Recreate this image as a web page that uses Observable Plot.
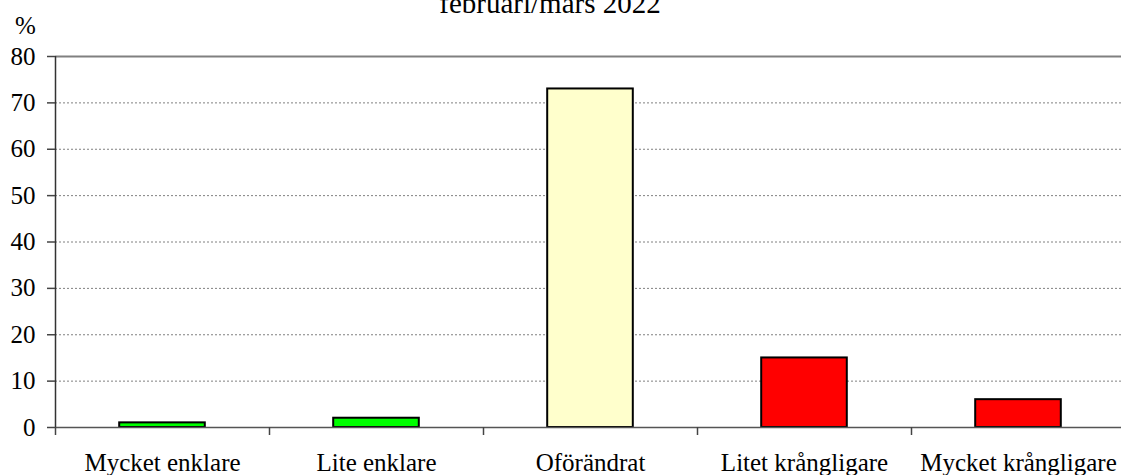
<!DOCTYPE html>
<html>
<head>
<meta charset="utf-8">
<script src="https://cdn.jsdelivr.net/npm/d3@7"></script>
<script src="https://cdn.jsdelivr.net/npm/@observablehq/plot@0.6"></script>
<style>
  html, body { margin: 0; padding: 0; background: #fff; overflow: hidden; }
  #wrap { position: relative; width: 1121px; height: 475px; font-family: "Liberation Serif", "Times New Roman", serif; }
  #title { position: absolute; left: 0; width: 1100px; text-align: center; top: -11px; font-size: 29px; line-height: 28px; color: #000; }
  #chart { position: absolute; left: 0; top: 0; }
</style>
</head>
<body>
<div id="wrap">
  <div id="chart"></div>
  <div id="title">februari/mars 2022</div>
</div>
<script>
const categories = ["Mycket enklare", "Lite enklare", "Oförändrat", "Litet krångligare", "Mycket krångligare"];
const values = [1, 2, 73, 15, 6];
const barColors = ["#00ff00", "#00ff00", "#ffffcc", "#ff0000", "#ff0000"];
const yTicks = [0, 10, 20, 30, 40, 50, 60, 70, 80];
const yUnit = "%";

const data = categories.map((c, i) => ({ i, category: c, value: values[i], color: barColors[i] }));
const centers = categories.map((c, i) => i + 0.5);
const bounds = d3.range(categories.length + 1);

const plot = Plot.plot({
  width: 1121,
  height: 475,
  marginLeft: 55,
  marginRight: 0,
  marginTop: 56,
  marginBottom: 48,
  style: { fontFamily: "Liberation Serif, Times New Roman, serif", fontSize: "25px", background: "#fff", color: "#000", overflow: "visible" },
  x: { domain: [0, categories.length], range: [55, 1125], axis: null },
  y: { domain: [0, 80], axis: null },
  color: { type: "identity" },
  marks: [
    Plot.ruleY(yTicks.filter(t => t > 0 && t < 80), { stroke: "#808080", strokeWidth: 1, strokeDasharray: "2,2" }),
    Plot.ruleY([80], { stroke: "#808080", strokeWidth: 2 }),
    Plot.rectY(data, { x1: d => d.i + 0.3, x2: d => d.i + 0.7, y: "value", fill: "color", stroke: "#000", strokeWidth: 2 }),
    Plot.ruleY([0], { stroke: "#555", strokeWidth: 1.5 }),
    Plot.axisX(bounds, { tickSize: 8, tickFormat: () => "", stroke: "#444", strokeWidth: 1.5 }),
    Plot.axisX(centers, { tickSize: 0, tickPadding: 26, tickFormat: v => categories[Math.floor(v)], fontSize: 25, fill: "#000" }),
    Plot.ruleX([0], { y1: 0, y2: 80, stroke: "#333", strokeWidth: 1.5 }),
    Plot.axisY(yTicks, { tickSize: 8, tickPadding: 12, fontSize: 25, stroke: "#444", strokeWidth: 1.5, fill: "#000", label: null }),
    Plot.text([yUnit], { frameAnchor: "top-left", dx: -30, dy: -23, lineAnchor: "bottom", textAnchor: "middle", fontSize: 25, fill: "#000" })
  ]
});
document.getElementById("chart").appendChild(plot);
</script>
</body>
</html>
